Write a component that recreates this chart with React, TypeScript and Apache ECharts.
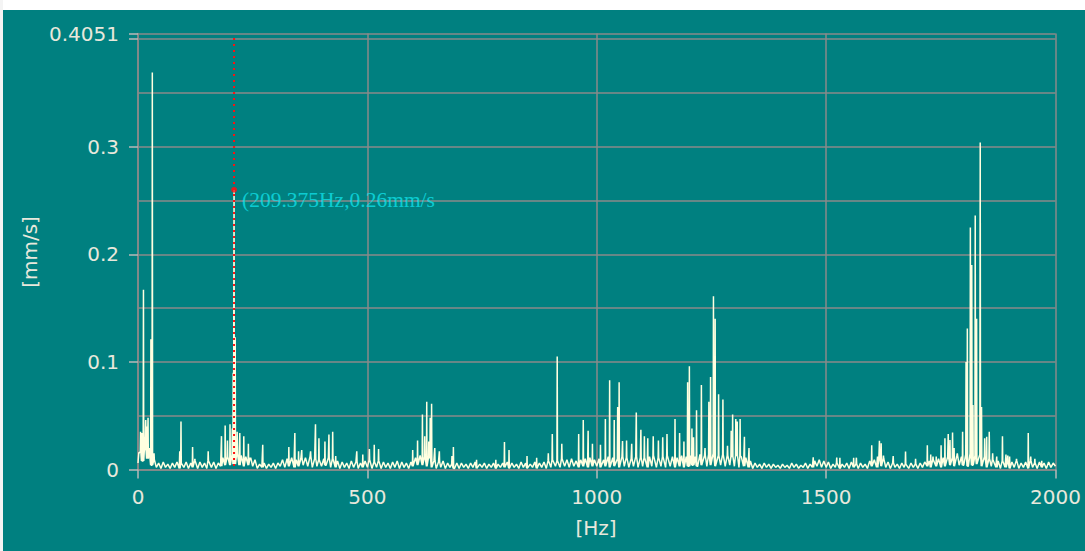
import React, { useEffect, useRef } from "react";
import * as echarts from "echarts";

// Spectrum noise floor, one sample every 5 Hz from 0 to 2000 Hz, in 0.001 mm/s
const FLOOR_STEP_HZ = 5;
const FLOOR = [
  6, 16, 8, 18, 10, 20, 4, 9, 2, 6, 1, 7, 2, 5, 1, 6, 2, 7, 1, 6,
  2, 7, 1, 6, 2, 8, 1, 7, 2, 6, 1, 8, 2, 7, 1, 6, 3, 11, 4, 12,
  4, 14, 5, 15, 4, 13, 3, 12, 4, 11, 3, 9, 1, 5, 2, 6, 1, 5, 2, 6,
  1, 6, 3, 9, 2, 10, 3, 11, 2, 9, 3, 10, 4, 11, 3, 12, 2, 10, 3, 9,
  3, 10, 4, 11, 2, 10, 2, 8, 1, 7, 2, 6, 1, 8, 2, 7, 1, 6, 2, 8,
  2, 9, 1, 7, 2, 8, 1, 7, 2, 6, 1, 7, 2, 8, 1, 7, 2, 6, 1, 7,
  3, 11, 4, 13, 4, 12, 3, 11, 2, 8, 1, 7, 2, 8, 1, 6, 2, 5, 1, 6,
  1, 6, 2, 5, 1, 6, 2, 7, 1, 5, 2, 6, 1, 5, 2, 6, 1, 5, 2, 6,
  2, 7, 1, 6, 2, 5, 1, 7, 2, 6, 1, 5, 2, 7, 1, 6, 2, 7, 1, 8,
  2, 9, 3, 8, 2, 10, 3, 9, 2, 10, 3, 8, 2, 9, 3, 10, 2, 11, 3, 9,
  3, 10, 2, 9, 3, 12, 2, 11, 3, 10, 2, 12, 3, 11, 2, 10, 3, 12, 2, 11,
  3, 11, 2, 12, 3, 13, 2, 11, 3, 12, 2, 13, 3, 12, 2, 11, 3, 13, 2, 12,
  3, 13, 4, 12, 3, 14, 4, 13, 3, 14, 4, 15, 3, 13, 4, 14, 3, 13, 4, 12,
  3, 13, 2, 12, 3, 11, 2, 8, 1, 6, 2, 5, 1, 6, 2, 5, 1, 5, 2, 4,
  1, 5, 2, 4, 1, 6, 2, 5, 1, 4, 2, 6, 1, 5, 2, 8, 3, 9, 2, 8,
  2, 7, 1, 5, 2, 6, 1, 5, 2, 6, 1, 7, 2, 5, 1, 6, 2, 5, 1, 8,
  3, 9, 2, 11, 3, 10, 2, 7, 1, 6, 2, 5, 1, 6, 2, 5, 1, 6, 2, 5,
  1, 6, 2, 7, 3, 8, 2, 9, 3, 10, 2, 11, 3, 12, 4, 11, 3, 13, 4, 12,
  4, 14, 3, 15, 4, 13, 5, 14, 3, 12, 2, 10, 3, 9, 2, 8, 1, 8, 2, 7,
  1, 7, 2, 8, 1, 6, 2, 7, 1, 8, 2, 6, 1, 7, 2, 6, 1, 7, 2, 6,
  3,
];

// Spectral lines [Hz, mm/s]
const PEAKS_LOW: [number, number][] = [
  [2.5, 0.015], [5.6, 0.035], [8.1, 0.034], [11.9, 0.167], [14.4, 0.03], [16.9, 0.046],
  [19.4, 0.04], [21.9, 0.048], [25, 0.02], [28.1, 0.121], [31.2, 0.369], [35, 0.015],
  [91, 0.017], [93.7, 0.0445], [119, 0.021], [124, 0.01], [153, 0.017], [182, 0.031],
  [190, 0.041], [195, 0.027], [200.6, 0.042], [205.6, 0.038], [207.5, 0.09], [209.375, 0.26],
  [211.9, 0.123], [216.2, 0.035], [221.9, 0.034], [230.6, 0.031], [240.6, 0.024], [245, 0.01],
  [271.9, 0.023], [328.8, 0.021], [341.9, 0.034], [350, 0.017], [356.9, 0.018], [376.2, 0.017],
  [386.9, 0.042], [394.4, 0.029], [407.5, 0.026], [416.2, 0.0325], [424.4, 0.035], [431, 0.0125],
  [476.9, 0.017], [490, 0.014], [504.4, 0.019], [515, 0.023], [524.4, 0.019],
];
const PEAKS_MID: [number, number][] = [
  [598.8, 0.018], [609.4, 0.027], [620, 0.051], [625, 0.031], [629.4, 0.063], [633.8, 0.026],
  [636.9, 0.048], [640, 0.061], [646.9, 0.02], [656.9, 0.017], [684.4, 0.0125], [687.5, 0.021],
  [738, 0.009], [780, 0.009], [798.8, 0.0256], [808.8, 0.018], [848, 0.0125], [869, 0.011],
  [894.4, 0.015], [903.1, 0.033], [913.8, 0.105], [923.8, 0.024], [960.6, 0.033], [970.6, 0.046],
  [981.2, 0.036], [990.6, 0.024], [1008.1, 0.023], [1018.8, 0.047], [1028.1, 0.083], [1038.1, 0.046],
  [1045.6, 0.058], [1048.8, 0.081], [1056.2, 0.0265], [1065, 0.027], [1076.2, 0.024], [1086.2, 0.053],
  [1096.2, 0.037], [1103.8, 0.031], [1111.2, 0.029], [1123.1, 0.031], [1134.4, 0.027], [1143.8, 0.03],
  [1153.1, 0.033], [1170.6, 0.047], [1180.6, 0.034], [1190, 0.026], [1198.1, 0.081], [1201.9, 0.096],
  [1207.5, 0.038], [1211, 0.03], [1217.5, 0.055], [1228.1, 0.0785], [1236, 0.02], [1244.4, 0.063],
  [1248.1, 0.086], [1254.4, 0.161], [1258.1, 0.14], [1265.6, 0.07], [1275, 0.065], [1285, 0.022],
  [1293.1, 0.036], [1296.2, 0.051], [1303.1, 0.047], [1306.2, 0.0445], [1312.5, 0.047], [1321.9, 0.0305],
  [1331.9, 0.02],
];
const PEAKS_HIGH: [number, number][] = [
  [1471.9, 0.0114], [1523.1, 0.011], [1530, 0.011], [1560, 0.011], [1566, 0.011], [1599.4, 0.0226],
  [1612, 0.012], [1616.2, 0.0268], [1620, 0.0243], [1625, 0.013], [1646.2, 0.0125], [1673.1, 0.0167],
  [1695, 0.01], [1720.6, 0.0226], [1728, 0.014], [1733, 0.012], [1740, 0.012], [1750.6, 0.0226],
  [1759, 0.029], [1766.2, 0.033], [1770, 0.0275], [1775.6, 0.0344], [1779, 0.02], [1786, 0.015],
  [1797.5, 0.035], [1805, 0.1], [1807.8, 0.131], [1814.4, 0.225], [1817.5, 0.19], [1820, 0.06],
  [1825, 0.236], [1828.1, 0.14], [1835.9, 0.304], [1838.8, 0.058], [1845.6, 0.029], [1850, 0.0305],
  [1855.6, 0.035], [1863, 0.015], [1871.9, 0.012], [1884.4, 0.031], [1892, 0.014], [1896, 0.013],
  [1900, 0.012], [1915, 0.01], [1940.6, 0.034], [1946, 0.012], [1955, 0.01], [1970, 0.008],
];

const LINE_WIDTH_HZ = 0.625; // spectral resolution
const CURSOR_HZ = 209.375;
const CURSOR_VALUE = 0.26;
const CURSOR_TOP = 0.401;
const CURSOR_LABEL = "(209.375Hz,0.26mm/s";

const X_MIN = 0;
const X_MAX = 2000;
const X_INTERVAL = 500;
const Y_MAX = 0.4051;
const Y_GRID_INTERVAL = 0.05;
const Y_LABEL_INTERVAL = 0.1;
const X_NAME = "[Hz]";
const Y_NAME = "[mm/s]";

function buildSpectrum(): [number, number][] {
  const pts: [number, number][] = FLOOR.map((v, i) => [i * FLOOR_STEP_HZ, v / 1000]);
  const all = [...PEAKS_LOW, ...PEAKS_MID, ...PEAKS_HIGH];
  all.forEach(([f, a]) => {
    const base = FLOOR[Math.min(FLOOR.length - 1, Math.round(f / FLOOR_STEP_HZ))] / 1000;
    pts.push([Math.max(0, f - LINE_WIDTH_HZ), base], [f, a], [f + LINE_WIDTH_HZ, base]);
  });
  pts.sort((p, q) => p[0] - q[0]);
  return pts;
}

export default function App() {
  const ref = useRef<HTMLDivElement>(null);
  useEffect(() => {
    if (!ref.current) return;
    const chart = echarts.init(ref.current, undefined, { renderer: "svg" });
    const textColor = "#e8e8dc";
    const gridColor = "#8a8a8a";
    const font = "DejaVu Sans";
    chart.setOption({
      animation: false,
      backgroundColor: "#008080",
      grid: { left: 138, top: 33.6, right: 29.5, bottom: 81.5, containLabel: false },
      graphic: [
        { type: "rect", z: 100, shape: { x: 0, y: 0, width: 1085, height: 10 }, style: { fill: "#ffffff" } },
        { type: "rect", z: 100, shape: { x: 0, y: 0, width: 3, height: 551 }, style: { fill: "#f4f4f4" } },
        {
          type: "text", x: 596, y: 528,
          style: { text: X_NAME, fill: textColor, font: `20px "${font}"`, align: "center", verticalAlign: "middle" },
        },
        {
          type: "text", x: 30, y: 252, rotation: Math.PI / 2,
          style: { text: Y_NAME, fill: textColor, font: `20px "${font}"`, align: "center", verticalAlign: "middle" },
        },
      ],
      xAxis: {
        type: "value", min: X_MIN, max: X_MAX, interval: X_INTERVAL,
        axisLine: { show: true, lineStyle: { color: gridColor, width: 1.5 } },
        axisTick: { show: true, length: 9, lineStyle: { color: "#b8b8b8", width: 1.5 } },
        axisLabel: {
          color: textColor, fontFamily: font, fontSize: 20, margin: 17,
          formatter: (v: number) => String(v),
        },
        splitLine: { show: true, lineStyle: { color: gridColor, width: 1.5 } },
      },
      yAxis: [
        {
          type: "value", min: 0, max: Y_MAX, interval: Y_GRID_INTERVAL,
          axisLine: { show: true, lineStyle: { color: gridColor, width: 1.5 } },
          axisTick: { show: false },
          axisLabel: { show: false },
          splitLine: { show: true, lineStyle: { color: gridColor, width: 1.5 } },
        },
        {
          type: "value", min: 0, max: Y_MAX, interval: Y_LABEL_INTERVAL, position: "left",
          axisLine: { show: false },
          axisTick: { show: true, length: 9, lineStyle: { color: "#b8b8b8", width: 1.5 } },
          axisLabel: {
            color: textColor, fontFamily: font, fontSize: 20, margin: 19,
            formatter: (v: number) => {
              if (Math.abs(v - Y_MAX) < 1e-9) return String(Y_MAX);
              if (Math.abs(v - 0.4) < 1e-9) return "";
              return String(+v.toFixed(4));
            },
          },
          splitLine: { show: false },
        },
      ],
      series: [
        {
          type: "line", data: buildSpectrum(), yAxisIndex: 0, showSymbol: false, symbol: "none",
          lineStyle: { color: "#ffffe0", width: 1.5 }, silent: true, z: 3,
        },
        {
          type: "line", data: [[CURSOR_HZ, CURSOR_TOP], [CURSOR_HZ, 0]], yAxisIndex: 0, symbol: "none",
          lineStyle: { color: "#ff1010", width: 2, type: [2, 4] }, silent: true, z: 5,
        },
        {
          type: "scatter", data: [[CURSOR_HZ, CURSOR_VALUE]], yAxisIndex: 0, symbolSize: 6,
          itemStyle: { color: "#ff1010" }, silent: true, z: 6,
          label: {
            show: true, position: "right", distance: 5, offset: [0, 10],
            formatter: CURSOR_LABEL, color: "#10e0e8", fontFamily: "Liberation Serif", fontSize: 21.5,
          },
        },
      ],
    });
    return () => chart.dispose();
  }, []);
  return <div ref={ref} style={{ position: "fixed", left: 0, top: 0, width: 1085, height: 551 }} />;
}
